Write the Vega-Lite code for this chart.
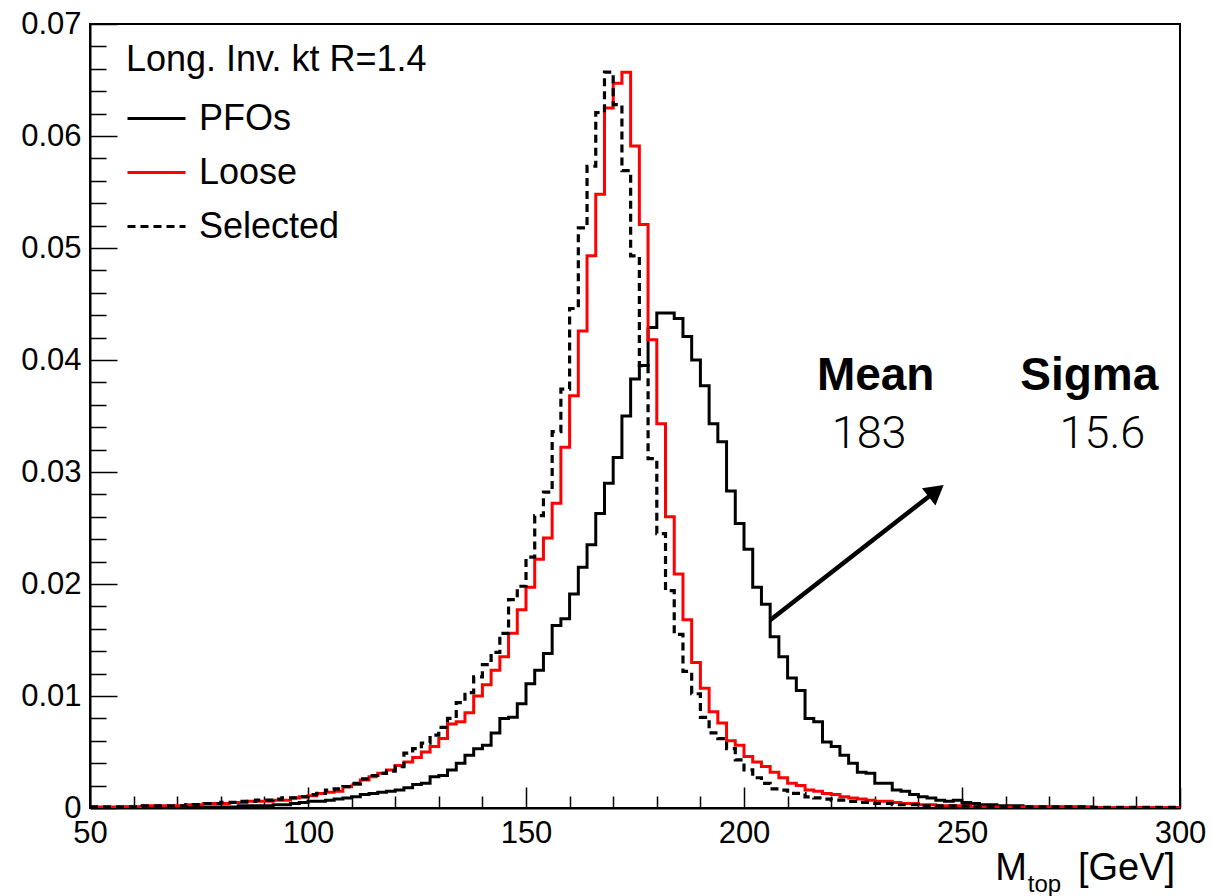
{
  "$schema": "https://vega.github.io/schema/vega-lite/v6.json",
  "width": 1090,
  "height": 784,
  "autosize": {"type": "none"},
  "padding": {"left": 90, "top": 24, "right": 32, "bottom": 88},
  "background": "white",
  "config": {
    "view": {"stroke": "black", "strokeWidth": 2},
    "font": "Liberation Sans",
    "axis": {"domainColor": "black", "domainWidth": 2, "tickColor": "black", "tickWidth": 1.5, "labelColor": "black", "labelFont": "Liberation Sans", "labelFontSize": 31, "grid": false, "labelFlush": false, "labelOverlap": false, "title": null},
    "legend": {"orient": "none", "legendX": 36, "legendY": 19, "titleFont": "Liberation Sans", "titleFontSize": 36, "titleFontWeight": "normal", "titleColor": "black", "titlePadding": 9, "titleLimit": 0, "labelFont": "Liberation Sans", "labelFontSize": 36, "labelColor": "black", "labelOffset": 12, "labelLimit": 0, "symbolType": "stroke", "symbolSize": 3364, "symbolStrokeWidth": 3, "rowPadding": 5}
  },
  "datasets": {
    "h": [
      {"m":50,"PFOs":0.00005,"Loose":0.0001,"Selected":0.0001},
      {"m":52,"PFOs":0.00005,"Loose":0.0001,"Selected":0.0001},
      {"m":54,"PFOs":0.00005,"Loose":0.0001,"Selected":0.0001},
      {"m":56,"PFOs":0.00005,"Loose":0.0001,"Selected":0.0001},
      {"m":58,"PFOs":0.0001,"Loose":0.0001,"Selected":0.0001},
      {"m":60,"PFOs":0.0001,"Loose":0.0001,"Selected":0.0001},
      {"m":62,"PFOs":0.0001,"Loose":0.0002,"Selected":0.0002},
      {"m":64,"PFOs":0.0001,"Loose":0.0002,"Selected":0.0002},
      {"m":66,"PFOs":0.0001,"Loose":0.0002,"Selected":0.0002},
      {"m":68,"PFOs":0.0001,"Loose":0.0002,"Selected":0.0002},
      {"m":70,"PFOs":0.0001,"Loose":0.0002,"Selected":0.0002},
      {"m":72,"PFOs":0.0001,"Loose":0.0003,"Selected":0.0003},
      {"m":74,"PFOs":0.0001,"Loose":0.0003,"Selected":0.0003},
      {"m":76,"PFOs":0.0001,"Loose":0.0004,"Selected":0.0004},
      {"m":78,"PFOs":0.0001,"Loose":0.0004,"Selected":0.0004},
      {"m":80,"PFOs":0.0001,"Loose":0.0004,"Selected":0.0005},
      {"m":82,"PFOs":0.0001,"Loose":0.0005,"Selected":0.0005},
      {"m":84,"PFOs":0.0002,"Loose":0.0005,"Selected":0.0006},
      {"m":86,"PFOs":0.0002,"Loose":0.0006,"Selected":0.0006},
      {"m":88,"PFOs":0.0002,"Loose":0.0006,"Selected":0.0007},
      {"m":90,"PFOs":0.0002,"Loose":0.0006,"Selected":0.0007},
      {"m":92,"PFOs":0.0003,"Loose":0.0007,"Selected":0.0008},
      {"m":94,"PFOs":0.0003,"Loose":0.0007,"Selected":0.0009},
      {"m":96,"PFOs":0.0004,"Loose":0.0009,"Selected":0.0009},
      {"m":98,"PFOs":0.0005,"Loose":0.0010,"Selected":0.0010},
      {"m":100,"PFOs":0.0006,"Loose":0.0011,"Selected":0.0012},
      {"m":102,"PFOs":0.0006,"Loose":0.0013,"Selected":0.0013},
      {"m":104,"PFOs":0.0007,"Loose":0.0014,"Selected":0.0016},
      {"m":106,"PFOs":0.0008,"Loose":0.0015,"Selected":0.0017},
      {"m":108,"PFOs":0.0009,"Loose":0.0019,"Selected":0.0019},
      {"m":110,"PFOs":0.0010,"Loose":0.0021,"Selected":0.0022},
      {"m":112,"PFOs":0.0012,"Loose":0.0025,"Selected":0.0026},
      {"m":114,"PFOs":0.0013,"Loose":0.0028,"Selected":0.0029},
      {"m":116,"PFOs":0.0014,"Loose":0.0031,"Selected":0.0031},
      {"m":118,"PFOs":0.0015,"Loose":0.0034,"Selected":0.0033},
      {"m":120,"PFOs":0.0016,"Loose":0.0038,"Selected":0.0037},
      {"m":122,"PFOs":0.0018,"Loose":0.0041,"Selected":0.0049},
      {"m":124,"PFOs":0.0021,"Loose":0.0045,"Selected":0.0053},
      {"m":126,"PFOs":0.0022,"Loose":0.0050,"Selected":0.0058},
      {"m":128,"PFOs":0.0028,"Loose":0.0055,"Selected":0.0065},
      {"m":130,"PFOs":0.0029,"Loose":0.0062,"Selected":0.0072},
      {"m":132,"PFOs":0.0034,"Loose":0.0075,"Selected":0.0080},
      {"m":134,"PFOs":0.0040,"Loose":0.0077,"Selected":0.0094},
      {"m":136,"PFOs":0.0047,"Loose":0.0085,"Selected":0.0103},
      {"m":138,"PFOs":0.0053,"Loose":0.0100,"Selected":0.0117},
      {"m":140,"PFOs":0.0056,"Loose":0.0110,"Selected":0.0128},
      {"m":142,"PFOs":0.0067,"Loose":0.0123,"Selected":0.0139},
      {"m":144,"PFOs":0.0080,"Loose":0.0135,"Selected":0.0156},
      {"m":146,"PFOs":0.0081,"Loose":0.0156,"Selected":0.0186},
      {"m":148,"PFOs":0.0093,"Loose":0.0177,"Selected":0.0198},
      {"m":150,"PFOs":0.0111,"Loose":0.0197,"Selected":0.0224},
      {"m":152,"PFOs":0.0123,"Loose":0.0222,"Selected":0.0261},
      {"m":154,"PFOs":0.0138,"Loose":0.0241,"Selected":0.0282},
      {"m":156,"PFOs":0.0163,"Loose":0.0272,"Selected":0.0336},
      {"m":158,"PFOs":0.0169,"Loose":0.0322,"Selected":0.0374},
      {"m":160,"PFOs":0.0191,"Loose":0.0368,"Selected":0.0446},
      {"m":162,"PFOs":0.0215,"Loose":0.0426,"Selected":0.0518},
      {"m":164,"PFOs":0.0235,"Loose":0.0493,"Selected":0.0573},
      {"m":166,"PFOs":0.0263,"Loose":0.0548,"Selected":0.0621},
      {"m":168,"PFOs":0.0290,"Loose":0.0625,"Selected":0.0657},
      {"m":170,"PFOs":0.0313,"Loose":0.0647,"Selected":0.0628},
      {"m":172,"PFOs":0.0350,"Loose":0.0657,"Selected":0.0569},
      {"m":174,"PFOs":0.0383,"Loose":0.0591,"Selected":0.0493},
      {"m":176,"PFOs":0.0395,"Loose":0.0521,"Selected":0.0395},
      {"m":178,"PFOs":0.0429,"Loose":0.0418,"Selected":0.0312},
      {"m":180,"PFOs":0.0442,"Loose":0.0343,"Selected":0.0245},
      {"m":182,"PFOs":0.0442,"Loose":0.0260,"Selected":0.0194},
      {"m":184,"PFOs":0.0437,"Loose":0.0209,"Selected":0.0155},
      {"m":186,"PFOs":0.0421,"Loose":0.0168,"Selected":0.0122},
      {"m":188,"PFOs":0.0400,"Loose":0.0130,"Selected":0.0102},
      {"m":190,"PFOs":0.0377,"Loose":0.0107,"Selected":0.0081},
      {"m":192,"PFOs":0.0343,"Loose":0.0086,"Selected":0.0067},
      {"m":194,"PFOs":0.0327,"Loose":0.0076,"Selected":0.0062},
      {"m":196,"PFOs":0.0283,"Loose":0.0060,"Selected":0.0053},
      {"m":198,"PFOs":0.0254,"Loose":0.0056,"Selected":0.0043},
      {"m":200,"PFOs":0.0231,"Loose":0.0046,"Selected":0.0034},
      {"m":202,"PFOs":0.0197,"Loose":0.0041,"Selected":0.0027},
      {"m":204,"PFOs":0.0182,"Loose":0.0037,"Selected":0.0022},
      {"m":206,"PFOs":0.0153,"Loose":0.0032,"Selected":0.0017},
      {"m":208,"PFOs":0.0135,"Loose":0.0027,"Selected":0.0016},
      {"m":210,"PFOs":0.0116,"Loose":0.0022,"Selected":0.0013},
      {"m":212,"PFOs":0.0105,"Loose":0.0020,"Selected":0.0013},
      {"m":214,"PFOs":0.0080,"Loose":0.0016,"Selected":0.0010},
      {"m":216,"PFOs":0.0077,"Loose":0.0015,"Selected":0.0009},
      {"m":218,"PFOs":0.0059,"Loose":0.0013,"Selected":0.0008},
      {"m":220,"PFOs":0.0055,"Loose":0.0012,"Selected":0.0007},
      {"m":222,"PFOs":0.0047,"Loose":0.0010,"Selected":0.0007},
      {"m":224,"PFOs":0.0040,"Loose":0.0009,"Selected":0.0006},
      {"m":226,"PFOs":0.0032,"Loose":0.0008,"Selected":0.0005},
      {"m":228,"PFOs":0.0031,"Loose":0.0007,"Selected":0.0005},
      {"m":230,"PFOs":0.0022,"Loose":0.0006,"Selected":0.0004},
      {"m":232,"PFOs":0.0022,"Loose":0.0006,"Selected":0.0004},
      {"m":234,"PFOs":0.0016,"Loose":0.0005,"Selected":0.0003},
      {"m":236,"PFOs":0.0015,"Loose":0.0004,"Selected":0.0003},
      {"m":238,"PFOs":0.0012,"Loose":0.0004,"Selected":0.0003},
      {"m":240,"PFOs":0.0010,"Loose":0.0003,"Selected":0.0002},
      {"m":242,"PFOs":0.0009,"Loose":0.0003,"Selected":0.0002},
      {"m":244,"PFOs":0.0007,"Loose":0.0002,"Selected":0.0002},
      {"m":246,"PFOs":0.0006,"Loose":0.0002,"Selected":0.0002},
      {"m":248,"PFOs":0.0007,"Loose":0.0002,"Selected":0.0002},
      {"m":250,"PFOs":0.0005,"Loose":0.0002,"Selected":0.0002},
      {"m":252,"PFOs":0.0004,"Loose":0.0001,"Selected":0.0001},
      {"m":254,"PFOs":0.0003,"Loose":0.0001,"Selected":0.0001},
      {"m":256,"PFOs":0.0003,"Loose":0.0001,"Selected":0.0001},
      {"m":258,"PFOs":0.0002,"Loose":0.0001,"Selected":0.0001},
      {"m":260,"PFOs":0.0002,"Loose":0.0001,"Selected":0.0001},
      {"m":262,"PFOs":0.0002,"Loose":0.0001,"Selected":0.0001},
      {"m":264,"PFOs":0.0001,"Loose":0.0001,"Selected":0.0001},
      {"m":266,"PFOs":0.0001,"Loose":0.0001,"Selected":0.0001},
      {"m":268,"PFOs":0.0001,"Loose":0.0001,"Selected":0.0001},
      {"m":270,"PFOs":0.0001,"Loose":0.0001,"Selected":0.0001},
      {"m":272,"PFOs":0.0001,"Loose":0.0001,"Selected":0.0001},
      {"m":274,"PFOs":0.0001,"Loose":0.0001,"Selected":0.0001},
      {"m":276,"PFOs":0.0001,"Loose":0.0001,"Selected":0.0001},
      {"m":278,"PFOs":0.0001,"Loose":0.00005,"Selected":0.00005},
      {"m":280,"PFOs":0.00005,"Loose":0.00005,"Selected":0.00005},
      {"m":282,"PFOs":0.00005,"Loose":0.00005,"Selected":0.00005},
      {"m":284,"PFOs":0.00005,"Loose":0.00005,"Selected":0.00005},
      {"m":286,"PFOs":0.00005,"Loose":0.00005,"Selected":0.00005},
      {"m":288,"PFOs":0.00005,"Loose":0.00005,"Selected":0.00005},
      {"m":290,"PFOs":0.00005,"Loose":0.00005,"Selected":0.00005},
      {"m":292,"PFOs":0.00005,"Loose":0.00005,"Selected":0.00005},
      {"m":294,"PFOs":0.00005,"Loose":0.00005,"Selected":0.00005},
      {"m":296,"PFOs":0.00005,"Loose":0.00005,"Selected":0.00005},
      {"m":298,"PFOs":0.00005,"Loose":0.00005,"Selected":0.00005},
      {"m":300,"PFOs":0.00005,"Loose":0.00005,"Selected":0.00005}
    ]
  },
  "resolve": {"axis": {"x": "independent", "y": "independent"}},
  "layer": [
    {
      "data": {"name": "h"},
      "transform": [{"fold": ["PFOs", "Loose", "Selected"], "as": ["key", "value"]}, {"filter": "datum.key === 'PFOs'"}],
      "mark": {"type": "line", "interpolate": "step-after", "strokeWidth": 3, "clip": true},
      "encoding": {
        "x": {"field": "m", "type": "quantitative", "scale": {"domain": [50, 300], "nice": false, "zero": false}, "axis": {"orient": "bottom", "values": [50, 100, 150, 200, 250, 300], "format": "d", "tickSize": -21, "labelPadding": 31}},
        "y": {"field": "value", "type": "quantitative", "scale": {"domain": [0, 0.07], "nice": false, "zero": true}, "axis": {"orient": "left", "values": [0, 0.01, 0.02, 0.03, 0.04, 0.05, 0.06, 0.07], "tickSize": -27, "labelPadding": 36, "labelExpr": "datum.value === 0 ? '0' : format(datum.value, '.2f')"}},
        "color": {"field": "key", "type": "nominal", "title": "Long. Inv. kt R=1.4", "scale": {"domain": ["PFOs", "Loose", "Selected"], "range": ["#000000", "#ff0000", "#000000"]}},
        "strokeDash": {"field": "key", "type": "nominal", "title": "Long. Inv. kt R=1.4", "scale": {"domain": ["PFOs", "Loose", "Selected"], "range": [[1, 0], [1, 0], [8, 5]]}}
      }
    },
    {
      "data": {"name": "h"},
      "transform": [{"fold": ["PFOs", "Loose", "Selected"], "as": ["key", "value"]}, {"filter": "datum.key === 'Loose'"}],
      "mark": {"type": "line", "interpolate": "step-after", "strokeWidth": 3, "clip": true},
      "encoding": {
        "x": {"field": "m", "type": "quantitative", "axis": {"orient": "bottom", "values": [60, 70, 80, 90, 110, 120, 130, 140, 160, 170, 180, 190, 210, 220, 230, 240, 260, 270, 280, 290], "tickSize": -12, "labels": false, "domain": false}},
        "y": {"field": "value", "type": "quantitative", "axis": {"orient": "left", "values": [0.002, 0.004, 0.006, 0.008, 0.012, 0.014, 0.016, 0.018, 0.022, 0.024, 0.026, 0.028, 0.032, 0.034, 0.036, 0.038, 0.042, 0.044, 0.046, 0.048, 0.052, 0.054, 0.056, 0.058, 0.062, 0.064, 0.066, 0.068], "tickSize": -16, "labels": false, "domain": false}},
        "color": {"field": "key", "type": "nominal", "title": "Long. Inv. kt R=1.4"},
        "strokeDash": {"field": "key", "type": "nominal", "title": "Long. Inv. kt R=1.4"}
      }
    },
    {
      "data": {"name": "h"},
      "transform": [{"fold": ["PFOs", "Loose", "Selected"], "as": ["key", "value"]}, {"filter": "datum.key === 'Selected'"}],
      "mark": {"type": "line", "interpolate": "step-after", "strokeWidth": 3.2, "clip": true},
      "encoding": {
        "x": {"field": "m", "type": "quantitative", "axis": null},
        "y": {"field": "value", "type": "quantitative", "axis": null},
        "color": {"field": "key", "type": "nominal", "title": "Long. Inv. kt R=1.4"},
        "strokeDash": {"field": "key", "type": "nominal", "title": "Long. Inv. kt R=1.4"}
      }
    },
    {
      "data": {"values": [{}]},
      "mark": {"type": "rule", "strokeWidth": 4.5, "color": "#000000"},
      "encoding": {
        "x": {"datum": 205.96, "type": "quantitative", "axis": null},
        "y": {"datum": 0.01676, "type": "quantitative", "axis": null},
        "x2": {"datum": 243.0},
        "y2": {"datum": 0.0280}
      }
    },
    {
      "data": {"values": [{}]},
      "mark": {"type": "point", "shape": "triangle-up", "filled": true, "color": "#000000", "opacity": 1, "size": 480, "angle": 52},
      "encoding": {
        "x": {"datum": 244.08, "type": "quantitative", "axis": null},
        "y": {"datum": 0.02831, "type": "quantitative", "axis": null}
      }
    },
    {
      "data": {"values": [{}]},
      "mark": {"type": "text", "text": "Mean", "font": "Liberation Sans", "fontWeight": "bold", "fontSize": 46, "align": "center", "baseline": "alphabetic", "color": "#000000"},
      "encoding": {
        "x": {"datum": 230.2, "type": "quantitative", "axis": null},
        "y": {"datum": 0.0373, "type": "quantitative", "axis": null}
      }
    },
    {
      "data": {"values": [{}]},
      "mark": {"type": "text", "text": "Sigma", "font": "Liberation Sans", "fontWeight": "bold", "fontSize": 46, "align": "center", "baseline": "alphabetic", "color": "#000000"},
      "encoding": {
        "x": {"datum": 279.2, "type": "quantitative", "axis": null},
        "y": {"datum": 0.0373, "type": "quantitative", "axis": null}
      }
    },
    {
      "data": {"values": [{}]},
      "mark": {"type": "text", "text": "183", "font": "Roboto", "fontWeight": 300, "fontSize": 45, "align": "center", "baseline": "alphabetic", "color": "#000000"},
      "encoding": {
        "x": {"datum": 228.7, "type": "quantitative", "axis": null},
        "y": {"datum": 0.0321, "type": "quantitative", "axis": null}
      }
    },
    {
      "data": {"values": [{}]},
      "mark": {"type": "text", "text": "15.6", "font": "Roboto", "fontWeight": 300, "fontSize": 45, "align": "center", "baseline": "alphabetic", "color": "#000000"},
      "encoding": {
        "x": {"datum": 282.2, "type": "quantitative", "axis": null},
        "y": {"datum": 0.0321, "type": "quantitative", "axis": null}
      }
    },
    {
      "data": {"values": [{}]},
      "mark": {"type": "text", "text": "M", "font": "Liberation Sans", "fontSize": 38, "align": "right", "baseline": "alphabetic", "color": "#000000"},
      "encoding": {
        "x": {"datum": 264.9, "type": "quantitative", "axis": null},
        "y": {"datum": -0.00642, "type": "quantitative", "axis": null}
      }
    },
    {
      "data": {"values": [{}]},
      "mark": {"type": "text", "text": "top", "font": "Liberation Sans", "fontSize": 24, "align": "left", "baseline": "alphabetic", "color": "#000000"},
      "encoding": {
        "x": {"datum": 265.1, "type": "quantitative", "axis": null},
        "y": {"datum": -0.00746, "type": "quantitative", "axis": null}
      }
    },
    {
      "data": {"values": [{}]},
      "mark": {"type": "text", "text": "[GeV]", "font": "Liberation Sans", "fontSize": 38, "align": "left", "baseline": "alphabetic", "color": "#000000"},
      "encoding": {
        "x": {"datum": 276.6, "type": "quantitative", "axis": null},
        "y": {"datum": -0.00642, "type": "quantitative", "axis": null}
      }
    }
  ]
}
